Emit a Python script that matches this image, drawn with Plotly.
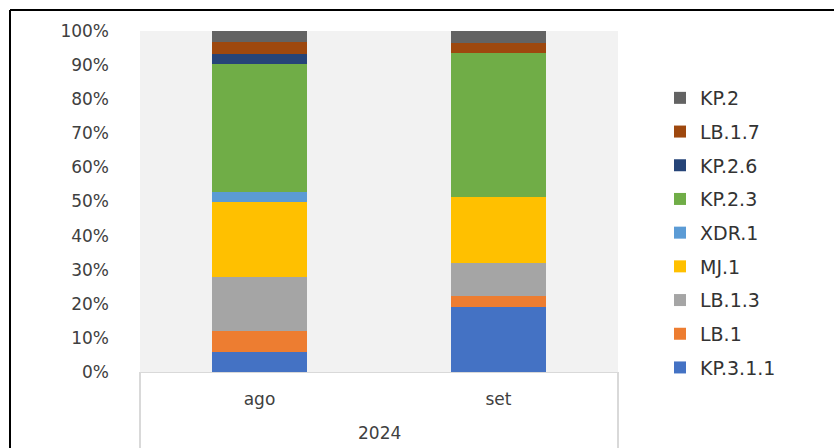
import plotly.graph_objects as go

year_label = "2024"
months = ["ago", "set"]

series_names = ["KP.3.1.1", "LB.1", "LB.1.3", "MJ.1", "XDR.1", "KP.2.3", "KP.2.6", "LB.1.7", "KP.2"]
kp_3_1_1 = [0.058, 0.191]
lb_1 = [0.063, 0.033]
lb_1_3 = [0.158, 0.095]
mj_1 = [0.219, 0.194]
xdr_1 = [0.030, 0.0]
kp_2_3 = [0.376, 0.423]
kp_2_6 = [0.030, 0.0]
lb_1_7 = [0.033, 0.030]
kp_2 = [0.033, 0.034]
series_values = [kp_3_1_1, lb_1, lb_1_3, mj_1, xdr_1, kp_2_3, kp_2_6, lb_1_7, kp_2]
colors = ["#4472C4", "#ED7D31", "#A5A5A5", "#FFC000", "#5B9BD5", "#70AD47", "#264478", "#9E480E", "#636363"]

y_ticks = [i / 10 for i in range(11)]

FONT = "DejaVu Sans"
TXT = "#404040"

fig = go.Figure()
n = len(series_names)
for i, (name, vals, col) in enumerate(zip(series_names, series_values, colors)):
    fig.add_trace(go.Bar(
        x=months, y=vals, name=name, legendgroup=name, legendrank=n - i,
        marker=dict(color=col, line=dict(width=0)),
    ))

W, H = 834, 448
L, R, T, B = 140, 216, 31, 76
pw, ph = W - L - R, H - T - B

def px_x(x):
    return (x - L) / pw

def px_y(y):
    return (H - B - y) / ph

fig.update_layout(
    width=W, height=H,
    margin=dict(l=L, r=R, t=T, b=B, pad=0),
    barmode="stack", bargap=0.6,
    paper_bgcolor="white", plot_bgcolor="#F2F2F2",
    font=dict(family=FONT, size=17, color=TXT),
    legend=dict(
        traceorder="grouped", tracegroupgap=6,
        x=px_x(660), xanchor="left", y=px_y(79), yanchor="top",
        font=dict(family=FONT, size=19, color="#333333"),
        bgcolor="rgba(0,0,0,0)",
    ),
    xaxis=dict(
        type="category", showline=True, linecolor="#D9D9D9", linewidth=1,
        tickfont=dict(family=FONT, size=17, color=TXT),
        showgrid=False, ticks="", ticklabelstandoff=12,
    ),
    yaxis=dict(
        range=[0, 1], tickvals=y_ticks, tickformat=".0%",
        showgrid=False, zeroline=False, showline=False, ticks="",
        ticklabelstandoff=30,
        tickfont=dict(family=FONT, size=17, color=TXT),
    ),
    annotations=[
        dict(text=year_label, xref="paper", yref="paper", x=0.5, y=px_y(433),
             xanchor="center", yanchor="middle", showarrow=False,
             font=dict(family=FONT, size=17, color=TXT)),
    ],
    shapes=[
        dict(type="line", xref="paper", yref="paper",
             x0=0, x1=0, y0=0, y1=px_y(448),
             line=dict(color="#D9D9D9", width=2)),
        dict(type="line", xref="paper", yref="paper",
             x0=1, x1=1, y0=0, y1=px_y(448),
             line=dict(color="#D9D9D9", width=2)),
        dict(type="line", xref="paper", yref="paper",
             x0=px_x(10), x1=px_x(834), y0=px_y(10), y1=px_y(10),
             line=dict(color="black", width=2)),
        dict(type="line", xref="paper", yref="paper",
             x0=px_x(10), x1=px_x(10), y0=px_y(10), y1=px_y(448),
             line=dict(color="black", width=2)),
    ],
)

fig.write_html("out.html", config={"displayModeBar": False},
               post_script="document.body.style.margin='0';")
